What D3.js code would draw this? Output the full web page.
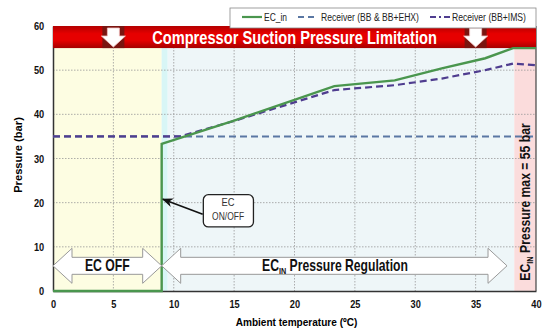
<!DOCTYPE html>
<html>
<head>
<meta charset="utf-8">
<script src="https://cdn.jsdelivr.net/npm/d3@7"></script>
<style>
  body { margin: 0; background: #fff; }
  text { font-family: "Liberation Sans", Arial, sans-serif; }
</style>
</head>
<body>
<div id="chart-area"></div>
<script>
// data
var xTicks = [0, 5, 10, 15, 20, 25, 30, 35, 40];
var yTicks = [0, 10, 20, 30, 40, 50, 60];
var ecInX = [0, 9, 9, 15, 23.3, 28.3, 32.2, 35.8, 38.1, 40];
var ecInY = [0, 0, 33.3, 38.6, 46.4, 47.7, 50.4, 52.7, 55, 55];
var ehxX = [0, 40];
var ehxY = [35, 35];
var imsX = [0, 10.5, 15, 23.3, 28.3, 32.2, 35.8, 38.1, 40];
var imsY = [35, 35, 38.5, 45.5, 46.6, 48.1, 50, 51.5, 51.1];
var seriesNames = ["EC_in", "Receiver (BB & BB+EHX)", "Receiver (BB+IMS)"];
var zones = [
  {x0: 0, x1: 9, color: "#fdfde2"},
  {x0: 9, x1: 9.5, color: "#d8f6f6"},
  {x0: 9.5, x1: 38.2, color: "#eef6f8"},
  {x0: 38.2, x1: 40, color: "#fbdcdc"}
];
var limitTop = 60, limitBottom = 55;
var ecOnOff = 9, ecMaxX = 38.2;

var width = 550,
    height = 336,
    margin = {top: 26, right: 14, bottom: 45, left: 53};
var w = width - margin.left - margin.right,
    h = height - margin.top - margin.bottom;

var x = d3.scaleLinear().domain([0, 40]).range([0, w]);
var y = d3.scaleLinear().domain([0, 60]).range([h, 0]);

var svg = d3.select("#chart-area")
    .append("svg")
        .attr("width", width)
        .attr("height", height)
    .append("g")
        .attr("transform", "translate(" + margin.left + "," + margin.top + ")");

// squeeze a text horizontally to a given width (no narrow font installed)
function fit(t, cx, cy, target, rot) {
    var bw = t.node().getBBox().width;
    t.attr("x", 0).attr("y", 0)
     .attr("transform", "translate(" + cx + "," + cy + ")" + (rot ? " rotate(" + rot + ")" : "") +
           " scale(" + (target / bw) + ",1)");
    return t;
}

var defs = svg.append("defs");
var grad = defs.append("linearGradient").attr("id", "banner").attr("x1", 0).attr("y1", 0).attr("x2", 0).attr("y2", 1);
grad.append("stop").attr("offset", "0%").attr("stop-color", "#b30000");
grad.append("stop").attr("offset", "35%").attr("stop-color", "#e60000");
grad.append("stop").attr("offset", "65%").attr("stop-color", "#e60000");
grad.append("stop").attr("offset", "100%").attr("stop-color", "#a50000");
defs.append("marker").attr("id", "tip")
    .attr("viewBox", "0 0 10 10").attr("refX", 9).attr("refY", 5)
    .attr("markerWidth", 7).attr("markerHeight", 7).attr("orient", "auto")
  .append("path").attr("d", "M0,1L10,5L0,9L3,5Z").attr("fill", "#111");

// background zones
svg.selectAll(".zone")
    .data(zones)
  .enter().append("rect")
    .attr("x", function(d) { return x(d.x0); })
    .attr("width", function(d) { return x(d.x1) - x(d.x0); })
    .attr("y", 0)
    .attr("height", h)
    .attr("fill", function(d) { return d.color; });

// grid
svg.append("g").selectAll("line")
    .data(xTicks.slice(1, -1))
  .enter().append("line")
    .attr("x1", x).attr("x2", x).attr("y1", 0).attr("y2", h)
    .attr("stroke", "#999").attr("stroke-width", 0.8).attr("stroke-dasharray", "1.5,1.5");
svg.append("g").selectAll("line")
    .data(yTicks.slice(1, -1))
  .enter().append("line")
    .attr("x1", 0).attr("x2", w).attr("y1", y).attr("y2", y)
    .attr("stroke", "#999").attr("stroke-width", 0.8).attr("stroke-dasharray", "1.5,1.5");

// axes
var xAxis = svg.append("g").attr("transform", "translate(0," + h + ")")
    .call(d3.axisBottom(x).tickValues(xTicks).tickSize(0).tickPadding(9));
var yAxis = svg.append("g")
    .call(d3.axisLeft(y).tickValues(yTicks).tickSize(0).tickPadding(10.5));
[xAxis, yAxis].forEach(function(a) {
    a.select(".domain").attr("stroke", "#333").attr("stroke-width", 1.5);
    a.selectAll("text").attr("font-size", 11).attr("font-weight", "bold").attr("fill", "#111")
        .attr("transform", "scale(0.84,1)")
        .style("font-family", "'Liberation Sans', Arial, sans-serif");
});
svg.append("line").attr("x1", w).attr("x2", w).attr("y1", 0).attr("y2", h)
    .attr("stroke", "#444").attr("stroke-width", 1.2);

fit(svg.append("text")
    .attr("text-anchor", "middle").attr("font-size", 11.5).attr("font-weight", "bold")
    .text("Ambient temperature (ºC)"), w / 2 + 2, h + 35, 122);
fit(svg.append("text")
    .attr("text-anchor", "middle").attr("font-size", 11.5).attr("font-weight", "bold")
    .text("Pressure (bar)"), -31, 155 - margin.top, 76, -90);

// limitation banner
svg.append("rect")
    .attr("x", 0).attr("width", w)
    .attr("y", y(limitTop)).attr("height", y(limitBottom) - y(limitTop))
    .attr("fill", "url(#banner)");
[5, 35].forEach(function(v) {
    var cx = x(v), t = y(limitTop), b = y(limitBottom);
    svg.append("rect").attr("x", cx - 11).attr("width", 22).attr("y", t).attr("height", b - t)
        .attr("fill", "#7a1510");
    svg.append("path")
        .attr("d", "M" + (cx - 6) + "," + (t + 2) + "H" + (cx + 6) + "V" + (t + 10) + "H" + (cx + 12) +
             "L" + cx + "," + (b - 1) + "L" + (cx - 12) + "," + (t + 10) + "H" + (cx - 6) + "Z")
        .attr("fill", "#fff").attr("stroke", "#f3c0c0").attr("stroke-width", 0.8);
});
fit(svg.append("text")
    .attr("text-anchor", "middle").attr("font-size", 18.5).attr("font-weight", "bold")
    .attr("fill", "#fff")
    .text("Compressor Suction Pressure Limitation"), 294.5 - margin.left, y(57.5) + 6.5, 285);

// series lines
function pts(xs, ys) { return xs.map(function(d, i) { return [d, ys[i]]; }); }
var line = d3.line().x(function(d) { return x(d[0]); }).y(function(d) { return y(d[1]); });

svg.append("path").datum(pts(ehxX, ehxY)).attr("d", line)
    .attr("fill", "none").attr("stroke", "#5a77a3").attr("stroke-width", 2).attr("stroke-dasharray", "7,4");
svg.append("path").datum(pts(imsX, imsY)).attr("d", line)
    .attr("fill", "none").attr("stroke", "#4f3d8f").attr("stroke-width", 2.2).attr("stroke-dasharray", "7,4");
svg.append("path").datum(pts(ecInX, ecInY)).attr("d", line)
    .attr("fill", "none").attr("stroke", "#4a964e").attr("stroke-width", 2.4);

// bottom double arrows
function dblArrow(x0, x1, yc, head, hh, sh) {
    return "M" + x0 + "," + yc + "L" + (x0 + head) + "," + (yc - hh) + "V" + (yc - sh) +
        "H" + (x1 - head) + "V" + (yc - hh) + "L" + x1 + "," + yc + "L" + (x1 - head) + "," + (yc + hh) +
        "V" + (yc + sh) + "H" + (x0 + head) + "V" + (yc + hh) + "Z";
}
var yc = y(5.7);
svg.append("path").attr("d", dblArrow(x(0), x(ecOnOff), yc, 19, 17.5, 8.5))
    .attr("fill", "#fff").attr("stroke", "#999").attr("stroke-width", 1);
svg.append("path").attr("d", dblArrow(x(ecOnOff), x(37.6), yc, 19, 17.5, 8.5))
    .attr("fill", "#fff").attr("stroke", "#999").attr("stroke-width", 1);
fit(svg.append("text")
    .attr("text-anchor", "middle").attr("font-size", 16).attr("font-weight", "bold").attr("fill", "#111")
    .text("EC OFF"), x(ecOnOff / 2), yc + 5.5, 45);
var reg = svg.append("text")
    .attr("text-anchor", "middle").attr("font-size", 16).attr("font-weight", "bold").attr("fill", "#111");
reg.append("tspan").text("EC");
reg.append("tspan").attr("font-size", 9.5).attr("dy", 3).text("IN");
reg.append("tspan").attr("dy", -3).text(" Pressure Regulation");
fit(reg, 335 - margin.left, yc + 5.5, 146);

// max pressure note
var note = svg.append("text")
    .attr("text-anchor", "middle").attr("font-size", 14).attr("font-weight", "bold").attr("fill", "#111");
note.append("tspan").text("EC");
note.append("tspan").attr("font-size", 8.5).attr("dy", 3).text("IN");
note.append("tspan").attr("dy", -3).text(" Pressure max = 55 bar");
fit(note, x((ecMaxX + 40) / 2) + 5, 202 - margin.top, 158, -90);

// EC ON/OFF callout
svg.append("line")
    .attr("x1", x(12.4)).attr("y1", y(17.4))
    .attr("x2", x(9.1)).attr("y2", y(20.8))
    .attr("stroke", "#111").attr("stroke-width", 1.6).attr("marker-end", "url(#tip)");
svg.append("rect")
    .attr("x", x(12.45)).attr("y", y(21.8))
    .attr("width", x(16.6) - x(12.45)).attr("height", y(14.5) - y(21.8))
    .attr("rx", 5).attr("fill", "#fff").attr("stroke", "#222").attr("stroke-width", 1.3);
fit(svg.append("text").attr("text-anchor", "middle").attr("font-size", 10).attr("fill", "#333").text("EC"),
    x(14.5), y(19.3), 13);
fit(svg.append("text").attr("text-anchor", "middle").attr("font-size", 10).attr("fill", "#333").text("ON/OFF"),
    x(14.5), y(16), 32);

// legend
var lg = svg.append("g").attr("transform", "translate(" + (230 - margin.left) + "," + (8 - margin.top) + ")");
lg.append("rect").attr("width", 306).attr("height", 20)
    .attr("fill", "#fff").attr("stroke", "#888").attr("stroke-width", 0.8);
var legendItems = [
    {name: seriesNames[0], color: "#4a964e", dash: null, lx: 12, tx: 34, tw: 23},
    {name: seriesNames[1], color: "#5a77a3", dash: "6,4", lx: 68, tx: 91, tw: 98},
    {name: seriesNames[2], color: "#4f3d8f", dash: "6,3,2,3", lx: 200, tx: 222, tw: 74}
];
legendItems.forEach(function(d) {
    lg.append("line").attr("x1", d.lx).attr("x2", d.lx + 20).attr("y1", 9).attr("y2", 9)
        .attr("stroke", d.color).attr("stroke-width", 2.2).attr("stroke-dasharray", d.dash);
    var t = lg.append("text").attr("font-size", 11).attr("fill", "#222").text(d.name);
    fit(t, d.tx, 13, d.tw);
});
</script>
</body>
</html>
